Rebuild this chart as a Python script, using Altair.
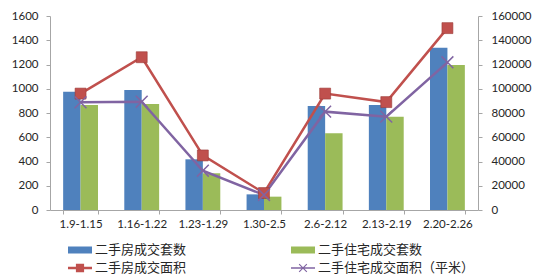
import altair as alt
import pandas as pd

# Weekly second-hand housing transactions
weeks = ["1.9-1.15", "1.16-1.22", "1.23-1.29", "1.30-2.5", "2.6-2.12", "2.13-2.19", "2.20-2.26"]

series_names = ["二手房成交套数", "二手住宅成交套数", "二手房成交面积", "二手住宅成交面积（平米）"]
series_colors = ["#4F81BD", "#9BBB59", "#C0504D", "#8064A2"]

# Units sold (left axis)
house_units = [975, 990, 418, 129, 858, 866, 1339]
residence_units = [866, 874, 303, 110, 633, 770, 1196]

# Floor area sold (right axis)
house_area = [96000, 126000, 45000, 14000, 96000, 89000, 150000]
residence_area = [88800, 89300, 32400, 12400, 81100, 77000, 121800]

bars = pd.DataFrame(
    [{"week": w, "series": series_names[0], "value": v} for w, v in zip(weeks, house_units)]
    + [{"week": w, "series": series_names[1], "value": v} for w, v in zip(weeks, residence_units)]
)
lines = pd.DataFrame(
    [{"week": w, "series": series_names[2], "value": v} for w, v in zip(weeks, house_area)]
    + [{"week": w, "series": series_names[3], "value": v} for w, v in zip(weeks, residence_area)]
)

FONT = "Lato"
CJK = "Noto Sans CJK SC"
AXIS_GREY = "#a6a6a6"
TEXT = "#262626"

# legend swatches: wide bar, line with square, line with cross
sw_bar = "M-2.43,-0.5H1V0.5H-2.43Z"
sw_sq = "M-2.43,-0.18H1V0.18H-2.43Z M-1.3,-0.6H-0.13V0.6H-1.3Z"
sw_x = ("M-2.43,-0.12H1V0.12H-2.43Z "
        "M-1.208,-0.607L-0.108,0.493L-0.222,0.607L-1.322,-0.493Z "
        "M-1.322,0.493L-0.222,-0.607L-0.108,-0.493L-1.208,0.607Z")
shape_expr = (
    f"datum.label === '{series_names[0]}' || datum.label === '{series_names[1]}' ? '{sw_bar}' : "
    f"datum.label === '{series_names[2]}' ? '{sw_sq}' : '{sw_x}'"
)

color_scale = alt.Scale(domain=series_names, range=series_colors)
legend = alt.Legend(
    title=None,
    orient="none",
    direction="horizontal",
    legendX=28,
    legendY=227,
    columns=2,
    columnPadding=103,
    rowPadding=4,
    padding=0,
    symbolSize=196,
    symbolType={"expr": shape_expr},
    symbolStrokeWidth=0,
    symbolOpacity=1,
    labelFont=CJK,
    labelFontSize=13,
    labelColor=TEXT,
    labelOffset=3,
    labelLimit=300,
)

x_enc = alt.X(
    "week:N",
    sort=weeks,
    scale=alt.Scale(paddingInner=0.43, paddingOuter=0.215),
    axis=alt.Axis(
        title=None, labelAngle=0, tickBand="extent", tickSize=4, labelPadding=4,
        domainColor=AXIS_GREY, tickColor=AXIS_GREY, labelFont=FONT, labelFontSize=11.5,
        labelColor=TEXT, grid=False,
    ),
)

bar_layer = alt.Chart(bars).mark_bar().encode(
    x=x_enc,
    xOffset=alt.XOffset("series:N", sort=series_names[:2],
                        scale=alt.Scale(paddingInner=0, paddingOuter=0)),
    y=alt.Y(
        "value:Q",
        scale=alt.Scale(domain=[0, 1600], nice=False),
        axis=alt.Axis(
            title=None, orient="left", values=list(range(0, 1601, 200)), grid=False,
            tickSize=4, labelPadding=8, domainColor=AXIS_GREY, tickColor=AXIS_GREY,
            labelFont=FONT, labelFontSize=11.5, labelColor=TEXT, format="d",
        ),
    ),
    color=alt.Color("series:N", scale=color_scale, legend=legend),
)

y_right = alt.Y(
    "value:Q",
    scale=alt.Scale(domain=[0, 160000], nice=False),
    axis=alt.Axis(
        title=None, orient="right", values=list(range(0, 160001, 20000)), grid=False,
        tickSize=4, labelPadding=9, domainColor=AXIS_GREY, tickColor=AXIS_GREY,
        labelFont=FONT, labelFontSize=11.5, labelColor=TEXT, format="d",
    ),
)

line_layer = alt.Chart(lines).mark_line(strokeWidth=2.5).encode(
    x=alt.X("week:N", sort=weeks),
    y=y_right,
    color=alt.Color("series:N", scale=color_scale, legend=legend),
    detail="series:N",
)

square_pts = alt.Chart(lines).transform_filter(
    alt.datum.series == series_names[2]
).mark_point(shape="square", filled=True, size=120, opacity=1,
             stroke="#9c3b38", strokeWidth=0.6).encode(
    x=alt.X("week:N", sort=weeks),
    y=y_right,
    color=alt.Color("series:N", scale=color_scale, legend=legend),
)

cross_pts = alt.Chart(lines).transform_filter(
    alt.datum.series == series_names[3]
).mark_point(shape="M-1,-1L1,1M-1,1L1,-1", filled=False, size=140, strokeWidth=1.5,
             opacity=1).encode(
    x=alt.X("week:N", sort=weeks),
    y=y_right,
    color=alt.Color("series:N", scale=color_scale, legend=legend),
)

right_layer = alt.layer(line_layer, square_pts, cross_pts)

chart = (
    alt.layer(bar_layer, right_layer)
    .resolve_scale(y="independent")
    .properties(
        width=428,
        height=194,
        autosize=alt.AutoSizeParams(type="none"),
        padding={"left": 50, "top": 16, "right": 63, "bottom": 66},
        background="white",
    )
    .configure_view(stroke=None)
)

chart.save("out.html", embed_options={"renderer": "svg", "actions": False})
